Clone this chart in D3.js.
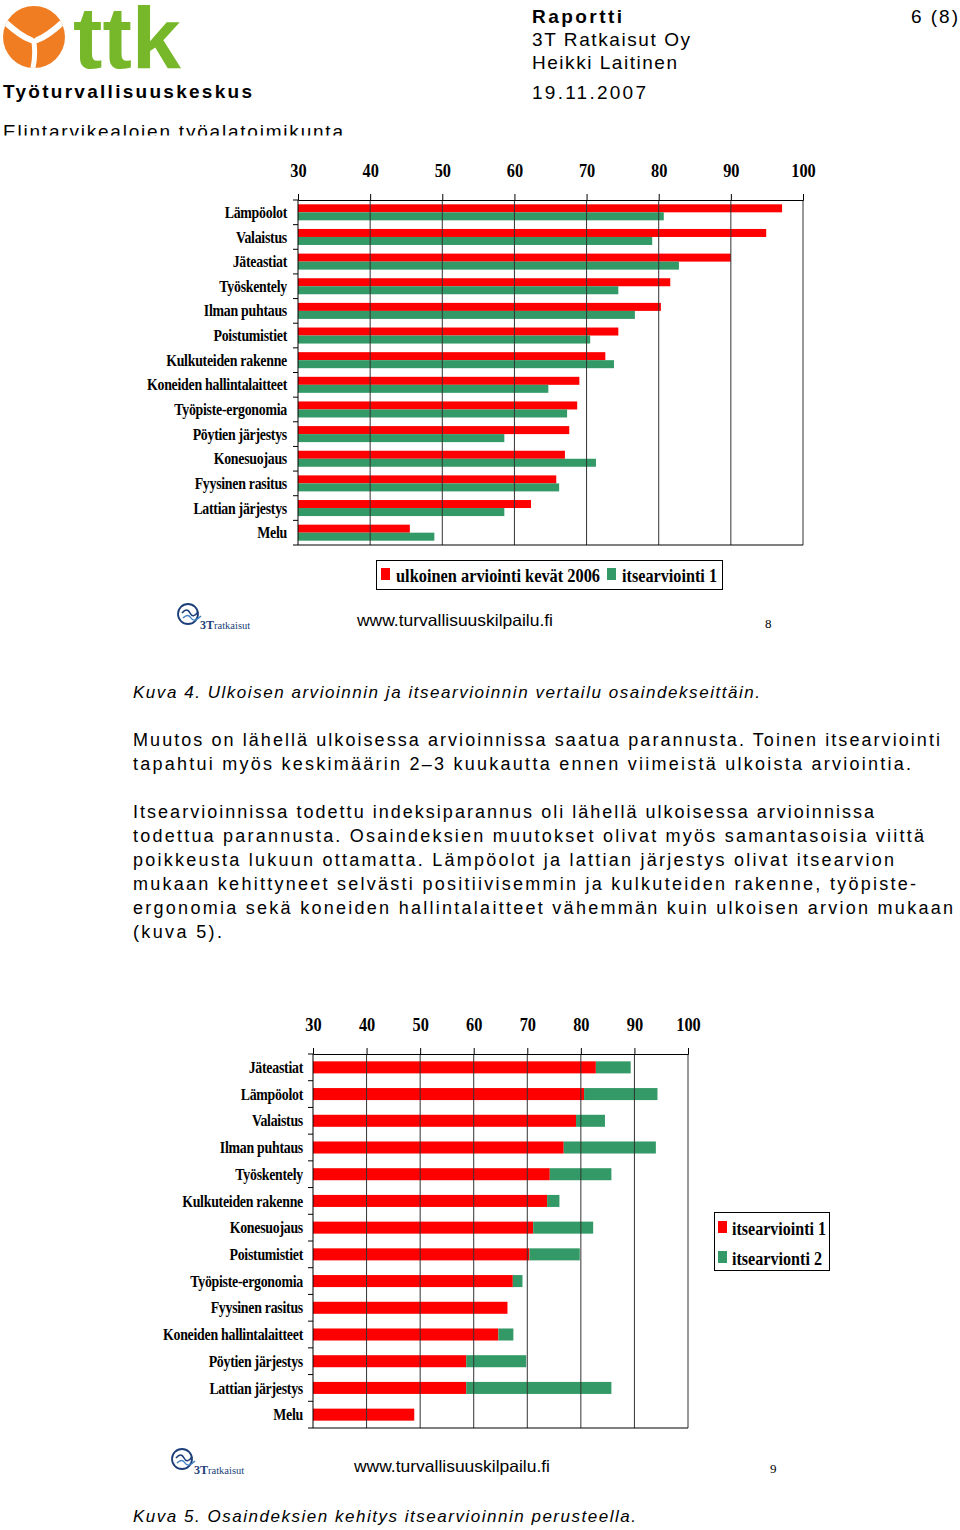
<!DOCTYPE html>
<html>
<head>
<meta charset="utf-8">
<title>Osaindeksit</title>
<script src="https://d3js.org/d3.v7.min.js"></script>
<style>
  body { margin: 0; background: #fff; }
  svg { display: block; }
  .sans { font-family: "Liberation Sans", Arial, sans-serif; }
  .serif { font-family: "Liberation Serif", "Times New Roman", serif; font-weight: bold; }
</style>
</head>
<body>
<svg id="page" width="960" height="1530"></svg>
<script>
// --- data: chart 1 (kuva 4)
var cats1 = ["Lämpöolot", "Valaistus", "Jäteastiat", "Työskentely", "Ilman puhtaus", "Poistumistiet",
  "Kulkuteiden rakenne", "Koneiden hallintalaitteet", "Työpiste-ergonomia", "Pöytien järjestys",
  "Konesuojaus", "Fyysinen rasitus", "Lattian järjestys", "Melu"];
var ulkoinen2006 = [97.1, 94.9, 90.0, 81.6, 80.3, 74.4, 72.6, 69.0, 68.7, 67.6, 67.0, 65.8, 62.3, 45.5];
var itse1_k4 = [80.7, 79.1, 82.8, 74.4, 76.7, 70.5, 73.8, 64.7, 67.3, 58.6, 71.3, 66.2, 58.6, 48.9];

// --- data: chart 2 (kuva 5), stacked: itsearviointi 1 + muutos
var cats2 = ["Jäteastiat", "Lämpöolot", "Valaistus", "Ilman puhtaus", "Työskentely", "Kulkuteiden rakenne",
  "Konesuojaus", "Poistumistiet", "Työpiste-ergonomia", "Fyysinen rasitus", "Koneiden hallintalaitteet",
  "Pöytien järjestys", "Lattian järjestys", "Melu"];
var itse1 = [82.8, 80.6, 79.1, 76.8, 74.2, 73.7, 71.1, 70.4, 67.3, 66.3, 64.6, 58.6, 58.6, 48.9];
var muutos = [6.5, 13.7, 5.4, 17.2, 11.5, 2.3, 11.2, 9.4, 1.8, 0, 2.8, 11.2, 27.1, 0];

var ticks = [30, 40, 50, 60, 70, 80, 90, 100];
var RED = "#ff0000", GREEN = "#339966";

var svg = d3.select("#page");

function fit(sel, w) { sel.attr("textLength", w).attr("lengthAdjust", "spacingAndGlyphs"); return sel; }
function txt(x, y, s, size, opts) {
  opts = opts || {};
  var p = opts.parent || svg;
  var t = p.append("text").attr("class", opts.cls || "sans").attr("x", x).attr("y", y)
    .attr("font-size", size).text(s);
  if (opts.bold) t.attr("font-weight", "bold");
  if (opts.italic) t.attr("font-style", "italic");
  if (opts.w) t.attr("textLength", opts.w).attr("lengthAdjust", opts.adj || "spacing");
  if (opts.anchor) t.attr("text-anchor", opts.anchor);
  return t;
}

// ---------- header ----------
var logo = svg.append("g");
logo.append("clipPath").attr("id", "lc").append("circle").attr("cx", 34).attr("cy", 37).attr("r", 31);
logo.append("circle").attr("cx", 34).attr("cy", 37).attr("r", 31).attr("fill", "#f07d22");
var ly = logo.append("g").attr("clip-path", "url(#lc)").attr("fill", "none").attr("stroke", "#fff")
  .attr("stroke-linecap", "round");
ly.append("path").attr("d", "M4,21 Q20,36 31,40").attr("stroke-width", 6);
ly.append("path").attr("d", "M64,21 Q48,36 37,40").attr("stroke-width", 6);
ly.append("path").attr("d", "M34,42 Q36,58 32,72").attr("stroke-width", 5);
// wordmark inside its own clipped viewport so its font box stays within the logo area
var wm = svg.append("svg").attr("x", 70).attr("y", 3).attr("width", 116).attr("height", 67)
  .attr("overflow", "hidden");
txt(3, 65, "ttk", 80, { bold: true, w: 108, adj: "spacingAndGlyphs", parent: wm }).attr("fill", "#77b82a")
  .attr("transform", "translate(0,65) scale(1,1.08) translate(0,-65)");

txt(3, 98, "Työturvallisuuskeskus", 19, { bold: true, w: 249 });
txt(3, 138, "Elintarvikealoien työalatoimikunta", 19, { w: 340 });
svg.append("rect").attr("x", 0).attr("y", 135.5).attr("width", 400).attr("height", 12).attr("fill", "#fff");

txt(532, 23, "Raportti", 19, { bold: true, w: 90 });
txt(532, 46, "3T Ratkaisut Oy", 19, { w: 158 });
txt(532, 69, "Heikki Laitinen", 19, { w: 145 });
txt(532, 99, "19.11.2007", 19, { w: 114 });
txt(911, 23, "6 (8)", 19, { w: 47 });

// ---------- chart helpers ----------
function frame(g, x, y, cats, labX) {
  var x0 = x.range()[0], x1 = x.range()[1], y0 = y.range()[0], y1 = y.range()[1];
  var step = (y1 - y0) / cats.length;
  // gridlines
  g.selectAll(".grid").data(ticks.slice(1)).join("line")
    .attr("x1", d => x(d)).attr("x2", d => x(d)).attr("y1", y0).attr("y2", y1)
    .attr("stroke", "#333").attr("stroke-width", 1);
  // top axis
  var ax = g.append("g").attr("transform", "translate(0," + y0 + ")")
    .call(d3.axisTop(x).tickValues(ticks).tickSize(6).tickPadding(17));
  ax.select(".domain").attr("stroke", "#000");
  ax.selectAll("text").attr("class", "serif").attr("font-size", 19).attr("fill", "#000")
    .each(function () { var w = this.getComputedTextLength(); fit(d3.select(this), w * 0.86); });
  // bottom border
  g.append("line").attr("x1", x0).attr("x2", x1).attr("y1", y1).attr("y2", y1).attr("stroke", "#000");
  // left axis with ticks between categories
  g.append("line").attr("x1", x0).attr("x2", x0).attr("y1", y0).attr("y2", y1).attr("stroke", "#000");
  g.selectAll(".ltick").data(d3.range(cats.length + 1)).join("line")
    .attr("x1", x0 - 5).attr("x2", x0).attr("y1", i => y0 + i * step).attr("y2", i => y0 + i * step)
    .attr("stroke", "#000");
  // category labels
  g.selectAll(".lab").data(cats).join("text").attr("class", "serif")
    .attr("x", labX).attr("y", d => y(d) + y.bandwidth() / 2).attr("dy", "0.35em")
    .attr("text-anchor", "end").attr("font-size", 16).attr("letter-spacing", -0.3).text(d => d)
    .each(function () { var w = this.getComputedTextLength(); fit(d3.select(this), w * 0.865); });
}

// ---------- chart 1 ----------
var g1 = svg.append("g");
var x1 = d3.scaleLinear().domain([30, 100]).range([298, 803]);
var y1 = d3.scaleBand().domain(cats1).range([200, 545]).paddingInner(0.35).paddingOuter(0.175);
var s1 = d3.scaleBand().domain([0, 1]).range([0, y1.bandwidth()]);
var rows1 = cats1.map((c, i) => ({ c: c, v: [ulkoinen2006[i], itse1_k4[i]] }));
var rg = g1.selectAll(".row").data(rows1).join("g").attr("transform", d => "translate(0," + y1(d.c) + ")");
rg.selectAll("rect").data(d => d.v).join("rect")
  .attr("x", x1(30)).attr("y", (d, i) => s1(i)).attr("height", s1.bandwidth())
  .attr("width", d => x1(d) - x1(30)).attr("fill", (d, i) => i ? GREEN : RED);
frame(g1, x1, y1, cats1, 287);

// legend 1
var lg1 = svg.append("g");
lg1.append("rect").attr("x", 376.5).attr("y", 560.5).attr("width", 346).attr("height", 29)
  .attr("fill", "#fff").attr("stroke", "#000");
[["ulkoinen arviointi kevät 2006", RED, 381, 396, 204], ["itsearviointi 1", GREEN, 607, 622, 95]].forEach(function (d) {
  lg1.append("rect").attr("x", d[2]).attr("y", 568).attr("width", 9).attr("height", 12).attr("fill", d[1]);
  lg1.append("text").attr("class", "serif").attr("x", d[3]).attr("y", 582).attr("font-size", 18)
    .attr("textLength", d[4]).attr("lengthAdjust", "spacingAndGlyphs").text(d[0]);
});

// footer logo
function footer(lx, ly, urlX, urlY, num, nx, ny) {
  var f = svg.append("g");
  f.append("circle").attr("cx", lx + 10).attr("cy", ly + 10).attr("r", 10).attr("fill", "none")
    .attr("stroke", "#1c3f7a").attr("stroke-width", 1.8);
  f.append("path").attr("d", "M" + (lx + 4) + "," + (ly + 9) + " q5,-6 8,0 q3,6 8,-1")
    .attr("fill", "none").attr("stroke", "#1c3f7a").attr("stroke-width", 1.6);
  f.append("path").attr("d", "M" + (lx + 5) + "," + (ly + 14) + " q5,-5 8,0 q3,5 10,-2")
    .attr("fill", "none").attr("stroke", "#3a7fc0").attr("stroke-width", 1.4);
  f.append("text").attr("class", "serif").attr("x", lx + 22).attr("y", ly + 25).attr("font-size", 12)
    .attr("fill", "#1c3f7a").text("3T");
  f.append("text").attr("x", lx + 36).attr("y", ly + 25).attr("font-size", 10.5)
    .attr("font-family", "Liberation Serif, serif").attr("fill", "#1c3f7a").text("ratkaisut");
  txt(urlX, urlY, "www.turvallisuuskilpailu.fi", 16.5, { w: 196, adj: "spacingAndGlyphs" });
  svg.append("text").attr("x", nx).attr("y", ny).attr("font-size", 13)
    .attr("font-family", "Liberation Serif, serif").text(num);
}
footer(178, 604, 357, 626, "8", 765, 628);

// ---------- text ----------
txt(133, 698, "Kuva 4. Ulkoisen arvioinnin ja itsearvioinnin vertailu osaindekseittäin.", 17, { italic: true, w: 627 });
var para = [
  ["Muutos on lähellä ulkoisessa arvioinnissa saatua parannusta. Toinen itsearviointi", 746, 807],
  ["tapahtui myös keskimäärin 2–3 kuukautta ennen viimeistä ulkoista arviointia.", 770, 778],
  ["Itsearvioinnissa todettu indeksiparannus oli lähellä ulkoisessa arvioinnissa", 818, 741],
  ["todettua parannusta. Osaindeksien muutokset olivat myös samantasoisia viittä", 842, 791],
  ["poikkeusta lukuun ottamatta. Lämpöolot ja lattian järjestys olivat itsearvion", 866, 761],
  ["mukaan kehittyneet selvästi positiivisemmin ja kulkuteiden rakenne, työpiste-", 890, 783],
  ["ergonomia sekä koneiden hallintalaitteet vähemmän kuin ulkoisen arvion mukaan", 914, 820],
  ["(kuva 5).", 938, 89]
];
para.forEach(d => txt(133, d[1], d[0], 18, { w: d[2] }));

// ---------- chart 2 ----------
var g2 = svg.append("g");
var x2 = d3.scaleLinear().domain([30, 100]).range([313, 688]);
var y2 = d3.scaleBand().domain(cats2).range([1054, 1428]).paddingInner(0.55).paddingOuter(0.275);
var table2 = cats2.map((c, i) => ({ c: c, base: itse1[i] - 30, muutos: muutos[i] }));
var stack = d3.stack().keys(["base", "muutos"])(table2);
g2.selectAll(".ser").data(stack).join("g").attr("fill", (d, i) => i ? GREEN : RED)
  .selectAll("rect").data(d => d).join("rect")
  .attr("x", d => x2(30 + d[0])).attr("width", d => x2(30 + d[1]) - x2(30 + d[0]))
  .attr("y", d => y2(d.data.c)).attr("height", y2.bandwidth());
frame(g2, x2, y2, cats2, 303);

// legend 2
var lg2 = svg.append("g");
lg2.append("rect").attr("x", 714.5).attr("y", 1212.5).attr("width", 115).attr("height", 58)
  .attr("fill", "#fff").attr("stroke", "#000");
[["itsearviointi 1", RED, 1221, 1235, 94], ["itsearvionti 2", GREEN, 1251, 1265, 90]].forEach(function (d) {
  lg2.append("rect").attr("x", 718).attr("y", d[2]).attr("width", 9).attr("height", 12).attr("fill", d[1]);
  lg2.append("text").attr("class", "serif").attr("x", 732).attr("y", d[3]).attr("font-size", 18)
    .attr("textLength", d[4]).attr("lengthAdjust", "spacingAndGlyphs").text(d[0]);
});

footer(172, 1449, 354, 1472, "9", 770, 1473);
txt(133, 1522, "Kuva 5. Osaindeksien kehitys itsearvioinnin perusteella.", 17, { italic: true, w: 503 });
</script>
</body>
</html>
